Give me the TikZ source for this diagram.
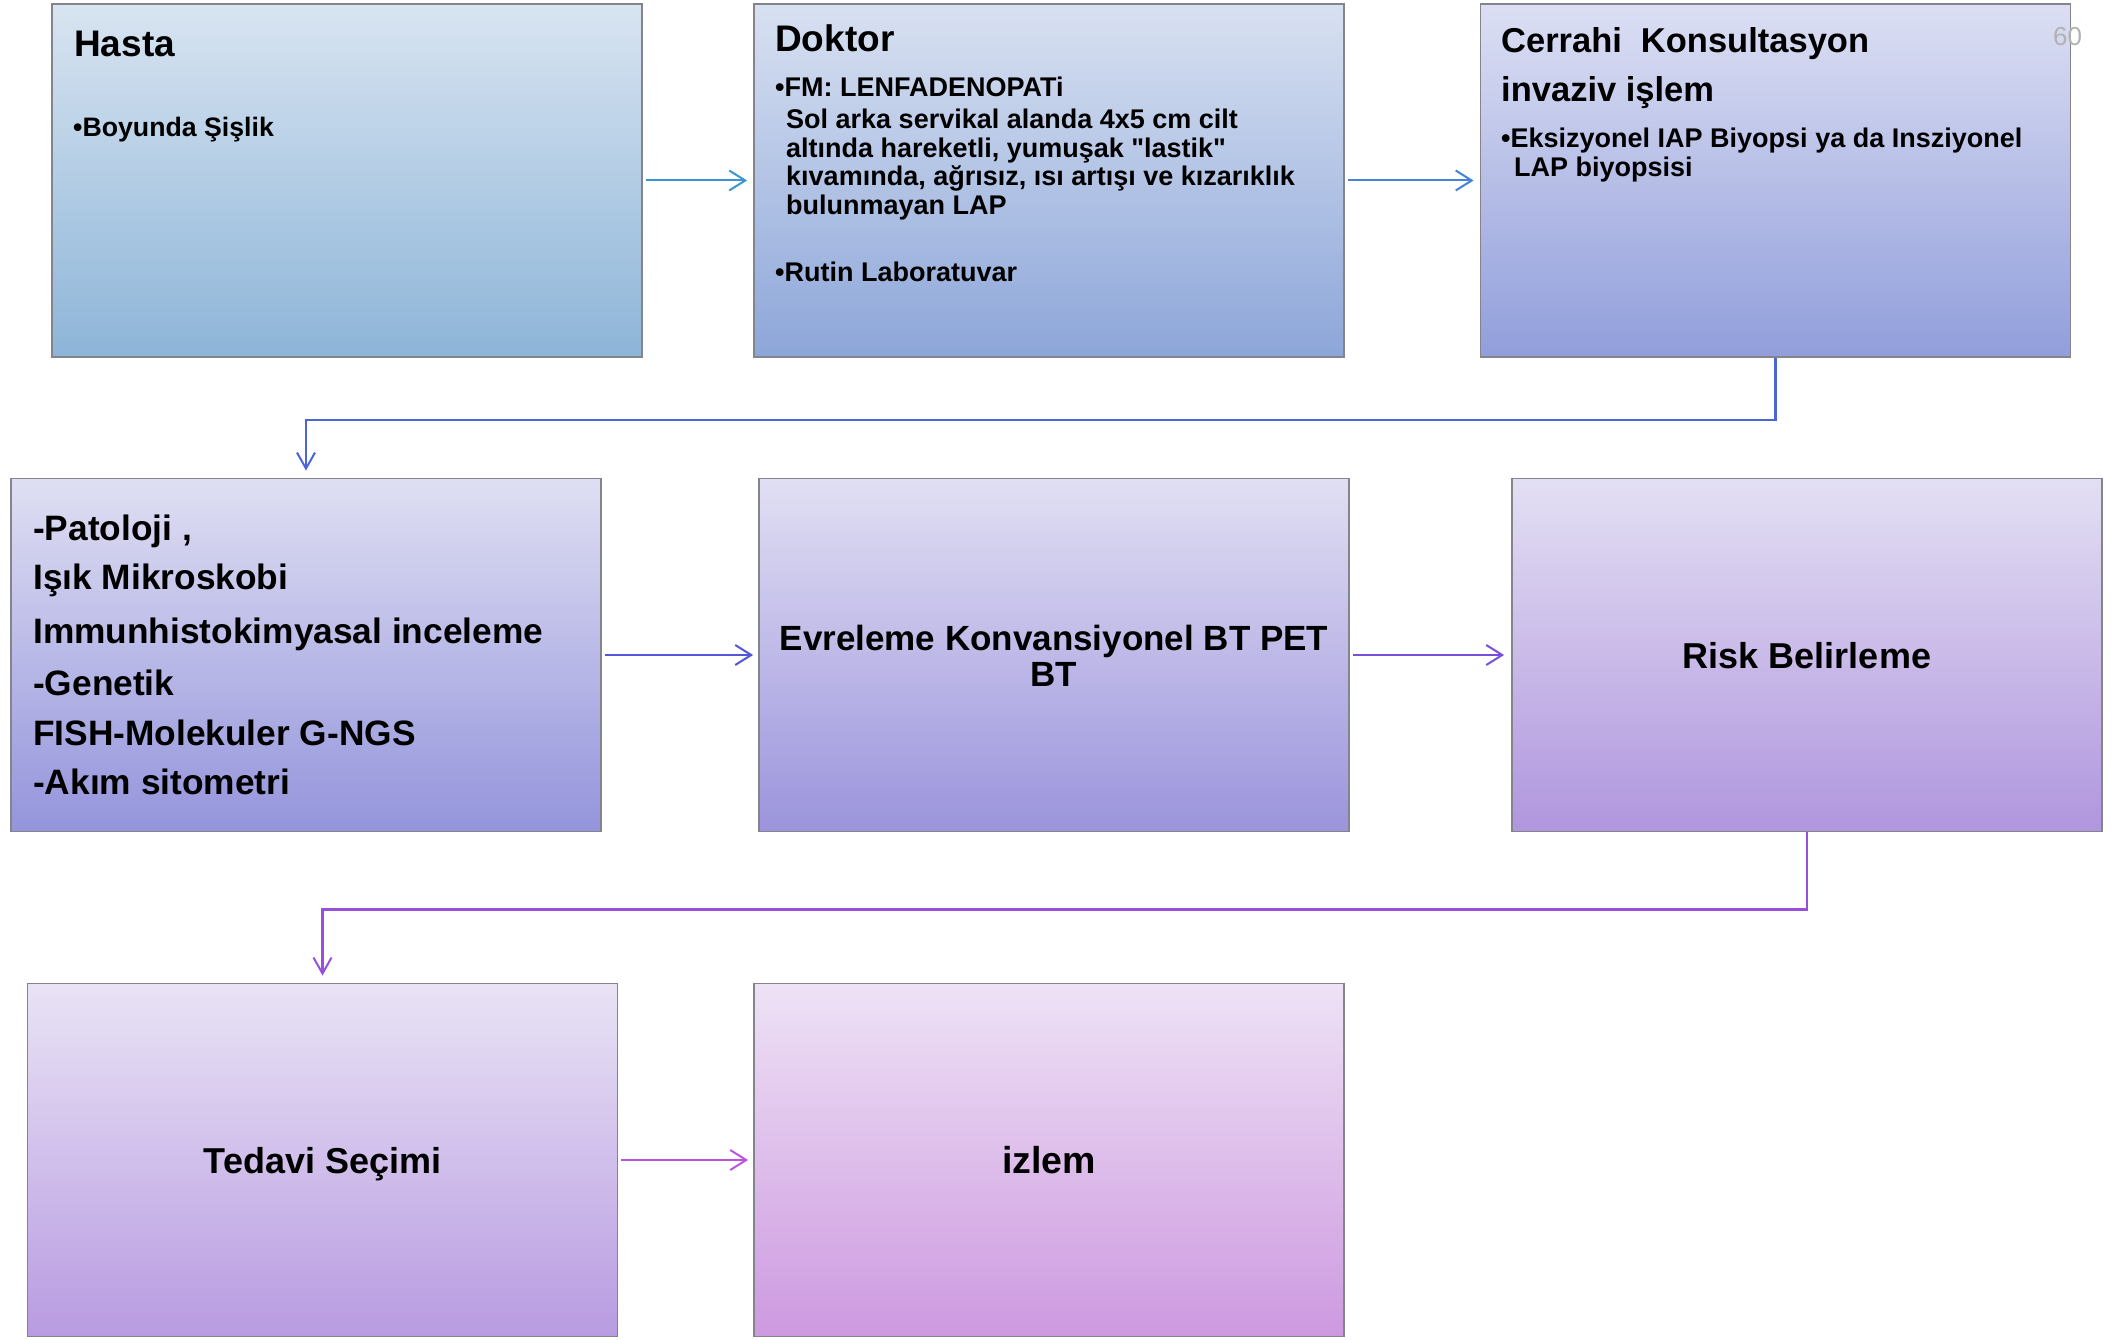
\documentclass[tikz,border=0pt]{standalone}
\usepackage{fontspec}
\setmainfont{Liberation Sans}
\usetikzlibrary{arrows.meta,shadings}
\definecolor{boxgray}{RGB}{132,132,140}
\definecolor{hastaT}{RGB}{216,228,241}
\definecolor{hastaB}{RGB}{141,181,216}
\definecolor{doktorT}{RGB}{216,225,241}
\definecolor{doktorB}{RGB}{141,166,217}
\definecolor{cerrahiT}{RGB}{220,223,243}
\definecolor{cerrahiB}{RGB}{145,158,219}
\definecolor{patolojiT}{RGB}{223,223,243}
\definecolor{patolojiB}{RGB}{148,148,220}
\definecolor{evrelemeT}{RGB}{225,223,243}
\definecolor{evrelemeB}{RGB}{155,148,220}
\definecolor{riskT}{RGB}{227,223,243}
\definecolor{riskB}{RGB}{176,150,222}
\definecolor{tedaviT}{RGB}{233,227,245}
\definecolor{tedaviB}{RGB}{184,155,225}
\definecolor{izlemT}{RGB}{238,226,245}
\definecolor{izlemB}{RGB}{205,153,224}
\definecolor{aA}{RGB}{58,150,210}
\definecolor{aB}{RGB}{72,130,215}
\definecolor{aC}{RGB}{75,100,215}
\definecolor{aD}{RGB}{85,85,215}
\definecolor{aE}{RGB}{120,80,215}
\definecolor{aF}{RGB}{150,80,220}
\definecolor{aG}{RGB}{185,85,220}
\definecolor{pagegray}{RGB}{178,178,178}
\tikzset{
  box/.style={rectangle, draw=boxgray, line width=1.8pt, minimum width=590pt,
    minimum height=353pt, inner sep=0pt, shading=axis},
  headtxt/.style={anchor=base west, inner sep=0pt, font=\bfseries\fontsize{37}{42}\selectfont},
  ctrtxt/.style={anchor=base, inner sep=0pt, font=\bfseries\fontsize{36}{42}\selectfont},
  bodytxt/.style={anchor=base west, inner sep=0pt, font=\bfseries\fontsize{27}{30}\selectfont},
  listtxt/.style={anchor=base west, inner sep=0pt, font=\bfseries\fontsize{35.3}{40}\selectfont},
  arr/.style={line width=2pt, -{Straight Barb[length=16pt,width=20pt,line width=2pt]},
    shorten >=6pt, shorten <=3pt},
  elb/.style={line width=2.6pt, -{Straight Barb[length=16pt,width=18pt,line width=2pt]},
    shorten >=7pt}
}
\begin{document}
\begin{tikzpicture}[x=1pt,y=-1pt]
\useasboundingbox (0,0) rectangle (2111,1340);
% boxes
\node[box, top color=hastaT, bottom color=hastaB] (hasta) at (347,180.5) {};
\node[box, top color=doktorT, bottom color=doktorB] (doktor) at (1049,180.5) {};
\node[box, top color=cerrahiT, bottom color=cerrahiB] (cerrahi) at (1775.5,180.5) {};
\node[box, top color=patolojiT, bottom color=patolojiB] (patoloji) at (306,655) {};
\node[box, top color=evrelemeT, bottom color=evrelemeB] (evreleme) at (1054,655) {};
\node[box, top color=riskT, bottom color=riskB] (risk) at (1807,655) {};
\node[box, top color=tedaviT, bottom color=tedaviB] (tedavi) at (322.5,1160) {};
\node[box, top color=izlemT, bottom color=izlemB] (izlem) at (1049,1160) {};
% texts: Hasta
\node[headtxt] (t-hasta) at (74,57) {Hasta};
\node[bodytxt, font=\bfseries\fontsize{26.7}{30}\selectfont] (t-boyun) at (73,137) {•Boyunda Şişlik};
% Doktor
\node[headtxt] (t-doktor) at (775,52) {Doktor};
\node[bodytxt] (t-fm) at (775,97) {•FM: LENFADENOPATi};
\node[bodytxt] (t-d1) at (786,129) {Sol arka servikal alanda 4x5 cm cilt};
\node[bodytxt] (t-d2) at (786,158) {altında hareketli, yumuşak \textquotedbl lastik\textquotedbl};
\node[bodytxt] (t-d3) at (786,186) {kıvamında, ağrısız, ısı artışı ve kızarıklık};
\node[bodytxt] (t-d4) at (786,215) {bulunmayan LAP};
\node[bodytxt] (t-rutin) at (775,282) {•Rutin Laboratuvar};
% Cerrahi
\node[headtxt, font=\bfseries\fontsize{34.5}{40}\selectfont] (t-cerrahi) at (1501,53) {Cerrahi\hspace{0.55em}Konsultasyon};
\node[headtxt, font=\bfseries\fontsize{34.5}{40}\selectfont] (t-invaziv) at (1501,102) {invaziv işlem};
\node[bodytxt] (t-eks) at (1501,148) {•Eksizyonel IAP Biyopsi ya da Insziyonel};
\node[bodytxt] (t-lap) at (1514,177) {LAP biyopsisi};
\node[anchor=base west, inner sep=0pt, text=pagegray, font=\fontsize{26}{30}\selectfont] (t-page) at (2053,46) {60};
% Patoloji
\node[listtxt] (t-p1) at (33,540) {-Patoloji ,};
\node[listtxt] (t-p2) at (33,589) {Işık Mikroskobi};
\node[listtxt] (t-p3) at (33,643) {Immunhistokimyasal inceleme};
\node[listtxt] (t-p4) at (33,695) {-Genetik};
\node[listtxt] (t-p5) at (33,745) {FISH-Molekuler G-NGS};
\node[listtxt] (t-p6) at (33,794) {-Akım sitometri};
% Evreleme
\node[ctrtxt, font=\bfseries\fontsize{35}{40}\selectfont] (t-e1) at (1054,650) {Evreleme Konvansiyonel BT PET};
\node[ctrtxt, font=\bfseries\fontsize{35}{40}\selectfont] (t-e2) at (1054,686) {BT};
% Risk, Tedavi, Izlem
\node[ctrtxt] (t-risk) at (1807,668) {Risk Belirleme};
\node[ctrtxt] (t-tedavi) at (322.5,1173) {Tedavi Seçimi};
\node[ctrtxt, font=\bfseries\fontsize{37.5}{42}\selectfont] (t-izlem) at (1049,1173) {izlem};
% connectors
\draw[arr, aA] (hasta.east) -- (doktor.west);
\draw[arr, aB] (doktor.east) -- (cerrahi.west);
\draw[elb, aC] (cerrahi.south) -- ++(0,62) -| (patoloji.north);
\draw[arr, aD, shorten >=5pt] (patoloji.east) -- (evreleme.west);
\draw[arr, aE, shorten >=7pt] (evreleme.east) -- (risk.west);
\draw[elb, aF] (risk.south) -- ++(0,77) -| (tedavi.north);
\draw[arr, aG, shorten >=5pt] (tedavi.east) -- (izlem.west);
\end{tikzpicture}
\end{document}
